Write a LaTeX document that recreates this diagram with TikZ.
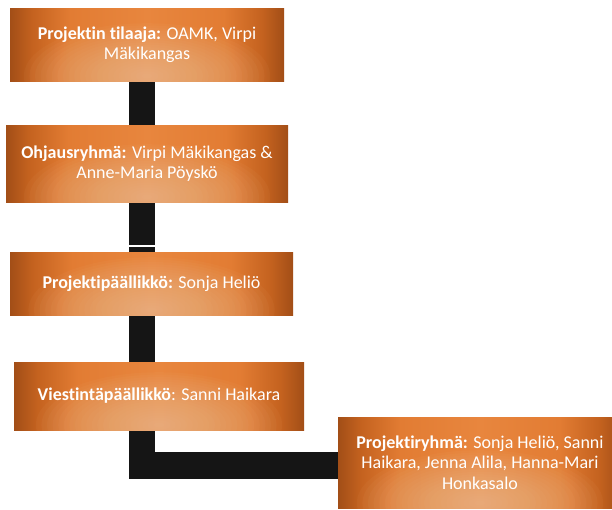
\documentclass[tikz,border=0pt]{standalone}
\usepackage{fontspec}
\setmainfont{Carlito}[Ligatures=NoCommon]
\usetikzlibrary{calc,backgrounds}
\definecolor{obDark}{HTML}{A24E17}
\definecolor{obEdge}{HTML}{C4621F}
\definecolor{obMid}{HTML}{E27C33}
\definecolor{obCen}{HTML}{E8863E}
\definecolor{obGlow}{HTML}{F7CCA6}
\definecolor{connc}{HTML}{151515}
\pgfdeclarehorizontalshading{boxh}{100bp}{color(0bp)=(obDark); color(25bp)=(obDark); color(29bp)=(obEdge); color(36bp)=(obMid); color(50bp)=(obCen); color(64bp)=(obMid); color(71bp)=(obEdge); color(75bp)=(obDark); color(100bp)=(obDark)}
\newcommand{\boxfont}{\fontsize{18}{20.5}\selectfont}
\tikzset{
  orgbox/.style={rectangle, inner sep=0pt, text=white, align=center, font=\boxfont,
    shade, shading=boxh,
    path picture={
      \foreach \k in {1,...,22}{
        \fill[obGlow, opacity=0.045] ($(path picture bounding box.south)+(0,5pt)$)
          ellipse[x radius={\k*5.6pt}, y radius={\k*2.4pt}];
      }
    }},
  conn/.style={draw=connc, line width=26.5pt, line cap=butt, line join=miter}
}
\begin{document}
\begin{tikzpicture}[x=1pt,y=-1pt]
\clip (0,0) rectangle (612,509);
\node[orgbox, minimum width=274pt, minimum height=73pt] (b1) at (147,44.5)
  {\textbf{Projektin tilaaja:} OAMK, Virpi\\Mäkikangas};
\node[orgbox, minimum width=282pt, minimum height=77pt] (b2) at (147,163.5)
  {\textbf{Ohjausryhmä:} Virpi Mäkikangas \&\\Anne-Maria Pöyskö};
\node[orgbox, minimum width=283pt, minimum height=63pt] (b3) at (151.5,283.5)
  {\textbf{Projektipäällikkö:} Sonja Heliö};
\node[orgbox, minimum width=290pt, minimum height=68pt] (b4) at (159,396)
  {\textbf{Viestintäpäällikkö}: Sanni Haikara};
\node[orgbox, minimum width=284pt, minimum height=91pt] (b5) at (480,462.5)
  {\textbf{Projektiryhmä:} Sonja Heliö, Sanni\\Haikara, Jenna Alila, Hanna-Mari\\Honkasalo};
\coordinate (spine) at (142,0);
\coordinate (elbow) at (142,465.5);
\begin{scope}[on background layer]
  \fill[white] (0,0) rectangle (612,509);
  \draw[conn] (b1.south -| spine) -- (b2.north -| spine);
  \draw[conn] (b2.south -| spine) -- (b3.north -| spine);
  \draw[white, line width=1.2pt] ($(spine |- 0,246)+(-13.5,0)$) -- ($(spine |- 0,246)+(13.5,0)$);
  \draw[conn] (b3.south -| spine) -- (b4.north -| spine);
  \draw[conn] (b4.south -| spine) |- (elbow -| b5.west);
\end{scope}
\end{tikzpicture}
\end{document}
